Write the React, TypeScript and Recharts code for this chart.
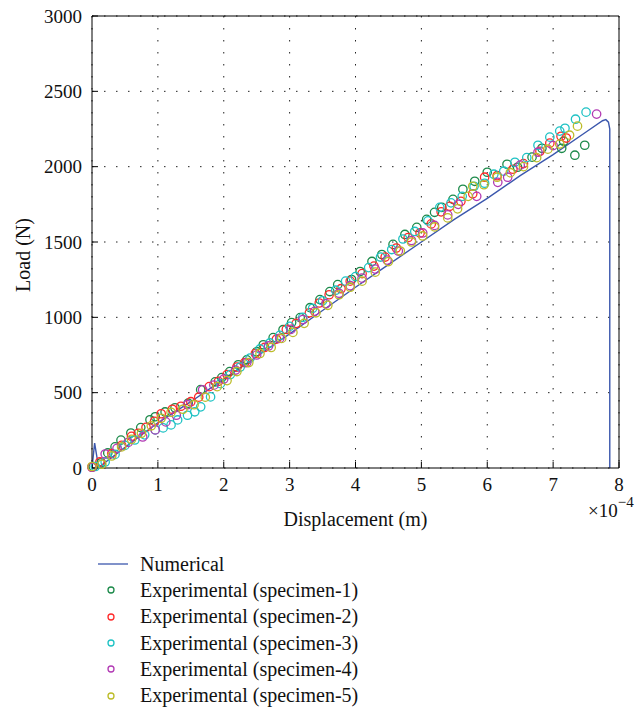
import React from 'react';
import {
    ComposedChart,
    Line,
    Scatter,
    XAxis,
    YAxis,
    CartesianGrid,
    Legend,
} from 'recharts';

// displacement in units of 1e-4 m, load in N
const numerical: [number, number][] = [
    [0, 0], [0.04, 165], [0.1, 5], [0.3, 70], [0.6, 170], [1.0, 300], [1.5, 440],
    [2.0, 590], [2.5, 740], [3.0, 890], [3.5, 1045], [4.0, 1200], [4.5, 1350],
    [5.0, 1500], [5.5, 1650], [6.0, 1790], [6.5, 1940], [7.0, 2080], [7.5, 2230],
    [7.75, 2305], [7.8, 2312], [7.84, 2295], [7.86, 2250], [7.86, 0],
];

const specimen1: [number, number][] = [
    [0.02, 10], [0.14, 35], [0.24, 100], [0.35, 140], [0.44, 185], [0.59, 232],
    [0.74, 268], [0.88, 320], [0.96, 340], [1.11, 372], [1.26, 400], [1.46, 430],
    [1.65, 520], [1.87, 572], [1.97, 600], [2.09, 640], [2.22, 685], [2.35, 718],
    [2.5, 772], [2.6, 818], [2.75, 865], [2.9, 918], [3.03, 965], [3.16, 998],
    [3.31, 1064], [3.46, 1118], [3.61, 1171], [3.73, 1217], [3.94, 1251], [4.07, 1304],
    [4.25, 1371], [4.4, 1417], [4.57, 1484], [4.75, 1550], [4.93, 1597], [5.08, 1650],
    [5.2, 1697], [5.31, 1730], [5.48, 1783], [5.63, 1850], [5.81, 1903], [6.0, 1963],
    [6.3, 2016], [6.46, 1996], [6.68, 2063], [6.83, 2122], [7.13, 2122], [7.16, 2169],
    [7.33, 2076], [7.48, 2142],
];

const specimen2: [number, number][] = [
    [0.0, 5], [0.12, 40], [0.3, 95], [0.45, 150], [0.6, 210], [0.7, 230], [0.82, 270],
    [0.95, 310], [1.05, 360], [1.22, 390], [1.35, 410], [1.5, 440], [1.62, 470],
    [1.78, 540], [1.92, 575], [2.05, 620], [2.2, 670], [2.32, 700], [2.48, 760],
    [2.62, 800], [2.8, 855], [2.95, 920], [3.1, 960], [3.3, 1030], [3.45, 1095],
    [3.6, 1150], [3.78, 1190], [3.92, 1240], [4.1, 1290], [4.28, 1340], [4.45, 1400],
    [4.62, 1460], [4.8, 1530], [4.98, 1560], [5.15, 1620], [5.3, 1700], [5.43, 1737],
    [5.6, 1770], [5.78, 1820], [5.96, 1930], [6.15, 1940], [6.39, 1983], [6.55, 2020],
    [6.8, 2102], [6.95, 2156], [7.12, 2202], [7.2, 2190],
];

const specimen3: [number, number][] = [
    [0.05, 10], [0.2, 40], [0.35, 90], [0.5, 150], [0.65, 186], [0.8, 220], [0.96, 253],
    [1.08, 266], [1.2, 286], [1.3, 319], [1.45, 350], [1.56, 373], [1.65, 406],
    [1.8, 472], [1.95, 560], [2.1, 620], [2.25, 670], [2.4, 730], [2.55, 790],
    [2.7, 830], [2.85, 880], [3.0, 940], [3.2, 1000], [3.35, 1060], [3.5, 1110],
    [3.7, 1180], [3.85, 1240], [4.0, 1270], [4.2, 1330], [4.38, 1400], [4.55, 1450],
    [4.72, 1520], [4.9, 1570], [5.1, 1640], [5.28, 1730], [5.45, 1760], [5.62, 1803],
    [5.8, 1870], [5.96, 1890], [6.1, 1950], [6.25, 1970], [6.42, 2029], [6.6, 2060],
    [6.77, 2142], [6.95, 2196], [7.1, 2236], [7.18, 2255], [7.34, 2315], [7.5, 2362],
];

const specimen4: [number, number][] = [
    [0.0, 5], [0.2, 93], [0.38, 130], [0.55, 170], [0.77, 206], [0.96, 253], [1.12, 306],
    [1.28, 350], [1.45, 420], [1.68, 519], [1.85, 550], [2.0, 590], [2.18, 650],
    [2.35, 700], [2.5, 750], [2.68, 810], [2.85, 860], [3.02, 920], [3.2, 985],
    [3.38, 1040], [3.55, 1090], [3.75, 1160], [3.92, 1210], [4.1, 1260], [4.3, 1320],
    [4.48, 1380], [4.65, 1440], [4.85, 1510], [5.02, 1560], [5.2, 1610], [5.4, 1680],
    [5.56, 1750], [5.84, 1803], [6.16, 1896], [6.31, 1930], [6.5, 2010], [6.77, 2096],
    [7.0, 2140], [7.66, 2349],
];

const specimen5: [number, number][] = [
    [0.0, 10], [0.15, 25], [0.3, 80], [0.45, 140], [0.6, 190], [0.75, 230], [0.9, 280],
    [1.05, 330], [1.2, 370], [1.38, 390], [1.55, 420], [1.72, 470], [1.9, 540],
    [2.05, 580], [2.2, 640], [2.38, 700], [2.55, 760], [2.72, 800], [2.88, 860],
    [3.05, 900], [3.22, 960], [3.4, 1030], [3.58, 1080], [3.75, 1150], [3.92, 1200],
    [4.1, 1240], [4.3, 1300], [4.5, 1370], [4.68, 1440], [4.85, 1500], [5.02, 1540],
    [5.2, 1600], [5.4, 1660], [5.55, 1720], [5.71, 1803], [5.78, 1870], [5.95, 1880],
    [6.15, 1930], [6.35, 1960], [6.55, 2000], [6.75, 2060], [6.92, 2116], [7.1, 2150],
    [7.25, 2209], [7.37, 2269],
];

const xTicks = [0, 1, 2, 3, 4, 5, 6, 7, 8];
const yTicks = [0, 500, 1000, 1500, 2000, 2500, 3000];

const numericalName = 'Numerical';
const numericalColor = '#3b57ad';

const experimental = [
    { name: 'Experimental (specimen-1)', color: '#1c8a4a', points: specimen1 },
    { name: 'Experimental (specimen-2)', color: '#ff2a2a', points: specimen2 },
    { name: 'Experimental (specimen-3)', color: '#1ec2c4', points: specimen3 },
    { name: 'Experimental (specimen-4)', color: '#b23ab4', points: specimen4 },
    { name: 'Experimental (specimen-5)', color: '#bcbc28', points: specimen5 },
];

const serif = 'Liberation Serif';
const tickStyle = { fontFamily: serif, fontSize: 19, fill: '#111' };

const toPoints = (arr: [number, number][]) => arr.map(([x, y]) => ({ x, y }));

const ring = (color: string) => (props: any) => (
    <circle cx={props.cx} cy={props.cy} r={4.2} fill="none" stroke={color} strokeWidth={1.3} />
);

function LegendBox() {
    const rows = [{ name: numericalName, color: numericalColor, line: true }].concat(
        experimental.map((s) => ({ name: s.name, color: s.color, line: false }))
    );
    return (
        <div style={{ fontFamily: serif, fontSize: 20, color: '#111' }}>
            {rows.map((r) => (
                <div key={r.name} style={{ display: 'flex', alignItems: 'center', height: 26.3 }}>
                    <svg width={44} height={26} style={{ flex: 'none' }}>
                        {r.line ? (
                            <line x1={2} y1={13} x2={32} y2={13} stroke={r.color} strokeWidth={1.3} />
                        ) : (
                            <circle cx={15} cy={13} r={3} fill="none" stroke={r.color} strokeWidth={1.3} />
                        )}
                    </svg>
                    <span style={{ whiteSpace: 'nowrap' }}>{r.name}</span>
                </div>
            ))}
        </div>
    );
}

export default function App() {
    return (
        <div style={{ position: 'absolute', left: 0, top: 0, fontFamily: serif }}>
            <ComposedChart
                width={643}
                height={711}
                margin={{ top: 15, right: 23, left: 0, bottom: 183 }}
                style={{ fontFamily: serif }}
            >
                <CartesianGrid stroke="#222" strokeDasharray="1.5 10.5" />
                <XAxis
                    dataKey="x"
                    type="number"
                    domain={[0, 8]}
                    ticks={xTicks}
                    height={60}
                    stroke="#000"
                    tickSize={-6}
                    tickMargin={16}
                    tick={tickStyle}
                    fontFamily={serif}
                    label={{
                        content: (p: any) => {
                            const vb = p.viewBox;
                            return (
                                <g fontFamily={serif} fill="#111">
                                    <text x={vb.x + vb.width / 2} y={vb.y + 58} textAnchor="middle" fontSize={20}>
                                        Displacement (m)
                                    </text>
                                    <text x={vb.x + vb.width - 31} y={vb.y + 49} fontSize={19}>
                                        ×10
                                        <tspan dy={-10} fontSize={15}>−4</tspan>
                                    </text>
                                </g>
                            );
                        },
                    }}
                />
                <XAxis
                    xAxisId="top"
                    orientation="top"
                    type="number"
                    domain={[0, 8]}
                    ticks={xTicks}
                    height={1}
                    stroke="#000"
                    tickSize={-6}
                    tick={false}
                />
                <YAxis
                    dataKey="y"
                    type="number"
                    domain={[0, 3000]}
                    ticks={yTicks}
                    width={92}
                    stroke="#000"
                    tickSize={-6}
                    tickMargin={16}
                    tick={tickStyle}
                    fontFamily={serif}
                    label={{
                        content: (p: any) => {
                            const vb = p.viewBox;
                            const cx = vb.x + 23;
                            const cy = vb.y + vb.height / 2 + 13;
                            return (
                                <text
                                    x={cx}
                                    y={cy}
                                    transform={`rotate(-90, ${cx}, ${cy})`}
                                    textAnchor="middle"
                                    dominantBaseline="central"
                                    fontFamily={serif}
                                    fontSize={20}
                                    fill="#111"
                                >
                                    Load (N)
                                </text>
                            );
                        },
                    }}
                />
                <YAxis
                    yAxisId="right"
                    orientation="right"
                    type="number"
                    domain={[0, 3000]}
                    ticks={yTicks}
                    width={1}
                    stroke="#000"
                    tickSize={-6}
                    tick={false}
                />
                <Legend
                    layout="horizontal"
                    verticalAlign="middle"
                    align="center"
                    wrapperStyle={{ top: 551, left: 96, width: 'auto', height: 'auto' }}
                    content={() => <LegendBox />}
                />
                <Line
                    data={toPoints(numerical)}
                    dataKey="y"
                    name={numericalName}
                    type="linear"
                    stroke={numericalColor}
                    strokeWidth={1.4}
                    dot={false}
                    activeDot={false}
                    isAnimationActive={false}
                />
                {experimental.map((s) => (
                    <Scatter
                        key={s.name}
                        name={s.name}
                        data={toPoints(s.points)}
                        dataKey="y"
                        fill={s.color}
                        shape={ring(s.color)}
                        isAnimationActive={false}
                    />
                ))}
            </ComposedChart>
        </div>
    );
}
